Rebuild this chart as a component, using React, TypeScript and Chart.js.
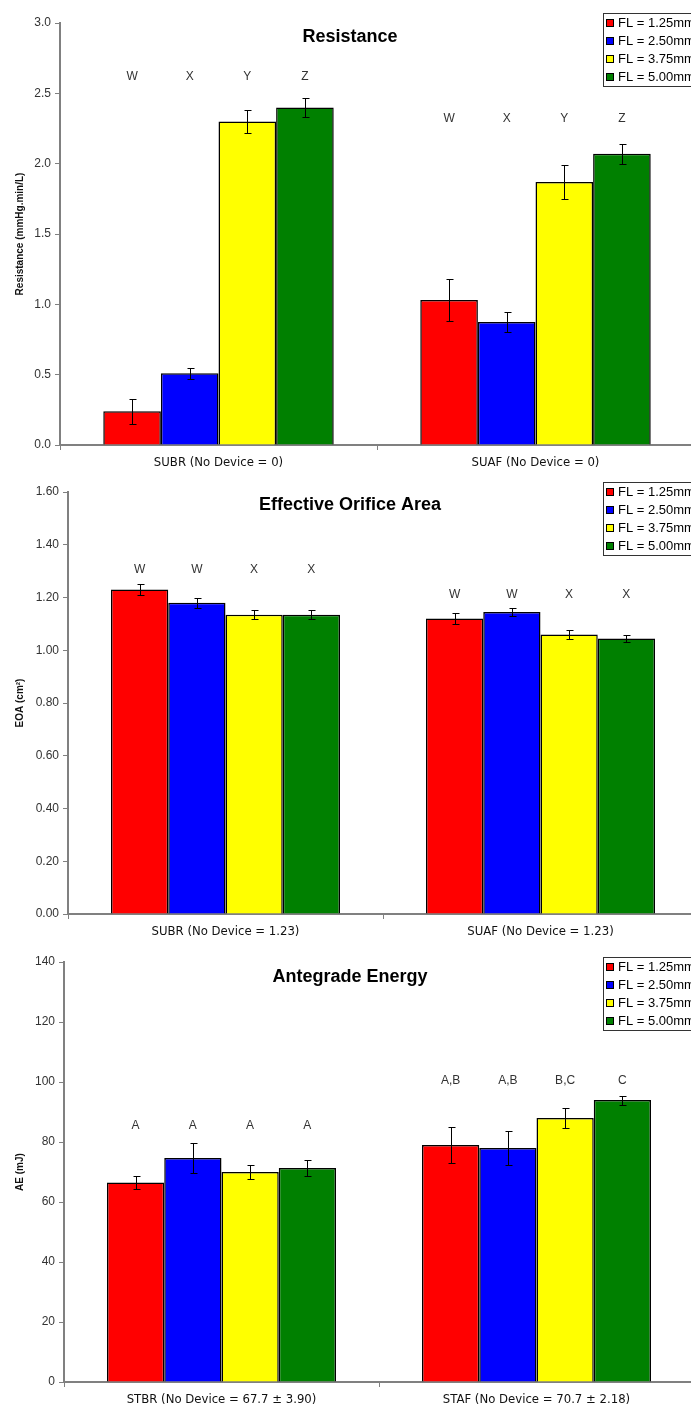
import React, { useEffect, useRef } from "react";
import { Chart, registerables } from "chart.js";

Chart.register(...registerables);

// ---------- DATA ----------
const seriesLabels = ["FL = 1.25mm", "FL = 2.50mm", "FL = 3.75mm", "FL = 5.00mm"];
const seriesColors = ["#FF0000", "#0000FF", "#FFFF00", "#008000"];

// Resistance
const resCategories = ["SUBR (No Device = 0)", "SUAF (No Device = 0)"];
const resFL125 = [0.24, 1.03];
const resFL250 = [0.51, 0.875];
const resFL375 = [2.3, 1.87];
const resFL500 = [2.4, 2.07];
const resErr125 = [0.09, 0.15];
const resErr250 = [0.04, 0.07];
const resErr375 = [0.085, 0.12];
const resErr500 = [0.07, 0.07];
const resLetters = [
  ["W", "X", "Y", "Z"],
  ["W", "X", "Y", "Z"],
];
const resLetterLevel = [2.615, 2.32];
const resTicks = { min: 0, max: 3, step: 0.5, decimals: 1 };

// Effective Orifice Area
const eoaCategories = ["SUBR (No Device = 1.23)", "SUAF (No Device = 1.23)"];
const eoaFL125 = [1.23, 1.12];
const eoaFL250 = [1.18, 1.145];
const eoaFL375 = [1.135, 1.06];
const eoaFL500 = [1.135, 1.045];
const eoaErr125 = [0.022, 0.022];
const eoaErr250 = [0.02, 0.015];
const eoaErr375 = [0.018, 0.018];
const eoaErr500 = [0.018, 0.012];
const eoaLetters = [
  ["W", "W", "X", "X"],
  ["W", "W", "X", "X"],
];
const eoaLetterLevel = [1.306, 1.211];
const eoaTicks = { min: 0, max: 1.6, step: 0.2, decimals: 2 };

// Antegrade Energy
const aeCategories = ["STBR (No Device = 67.7 \u00B1 3.90)", "STAF (No Device = 70.7 \u00B1 2.18)"];
const aeFL125 = [66.5, 79];
const aeFL250 = [74.7, 78];
const aeFL375 = [70, 88];
const aeFL500 = [71.3, 94];
const aeErr125 = [2, 6];
const aeErr250 = [5, 5.8];
const aeErr375 = [2.3, 3.4];
const aeErr500 = [2.7, 1.5];
const aeLetters = [
  ["A", "A", "A", "A"],
  ["A,B", "A,B", "B,C", "C"],
];
const aeLetterLevel = [85.3, 100.3];
const aeTicks = { min: 0, max: 140, step: 20, decimals: 0 };

// ---------- STYLE ----------
const FONT = "'Liberation Sans', Arial, sans-serif";
const NARROW = "'Liberation Sans Narrow', 'DejaVu Sans Condensed', 'Liberation Sans', Arial, sans-serif";

const annotPlugin = {
  id: "annot",
  afterDatasetsDraw(chart: any) {
    const o = chart.options.plugins.annot;
    if (!o) return;
    const ctx = chart.ctx;
    const y = chart.scales.y;
    const area = chart.chartArea;
    ctx.save();
    // error bars
    ctx.strokeStyle = "#000";
    ctx.lineWidth = 1;
    chart.data.datasets.forEach((ds: any, i: number) => {
      const meta = chart.getDatasetMeta(i);
      meta.data.forEach((bar: any, j: number) => {
        const v = ds.data[j];
        const e = o.errors[i][j];
        const x = Math.round(bar.x) + 0.5;
        const yt = Math.round(y.getPixelForValue(v + e)) + 0.5;
        const yb = Math.round(y.getPixelForValue(v - e)) + 0.5;
        ctx.beginPath();
        ctx.moveTo(x, yt);
        ctx.lineTo(x, yb);
        ctx.moveTo(x - 3, yt);
        ctx.lineTo(x + 4, yt);
        ctx.moveTo(x - 3, yb);
        ctx.lineTo(x + 4, yb);
        ctx.stroke();
      });
    });
    // letters
    ctx.fillStyle = "#333";
    ctx.font = `12px ${FONT}`;
    ctx.textAlign = "center";
    ctx.textBaseline = "middle";
    o.letters.forEach((grp: string[], g: number) => {
      grp.forEach((txt: string, s: number) => {
        const bar = chart.getDatasetMeta(s).data[g];
        ctx.fillText(txt, bar.x, y.getPixelForValue(o.letterLevel[g]));
      });
    });
    // title
    ctx.fillStyle = "#000";
    ctx.font = `bold 18px ${FONT}`;
    ctx.fillText(o.title, o.titleX, o.titleY);
    // y axis title
    ctx.save();
    ctx.translate(o.yTitleX, (area.top + area.bottom) / 2);
    ctx.rotate(-Math.PI / 2);
    ctx.font = `bold 10px ${FONT}`;
    ctx.fillStyle = "#111";
    ctx.fillText(o.yTitle, 0, 0);
    ctx.restore();
    // legend
    const lx = o.legendLeft;
    const ly = o.legendTop;
    ctx.fillStyle = "#fff";
    ctx.fillRect(lx, ly, 200, 73);
    ctx.strokeStyle = "#333";
    ctx.lineWidth = 1;
    ctx.strokeRect(lx + 0.5, ly + 0.5, 200, 73);
    ctx.font = `13px ${FONT}`;
    ctx.textAlign = "left";
    ctx.textBaseline = "middle";
    chart.data.datasets.forEach((ds: any, i: number) => {
      const ry = ly + 10 + i * 18;
      ctx.fillStyle = ds.backgroundColor;
      ctx.fillRect(lx + 3, ry - 4, 8, 8);
      ctx.strokeStyle = "#000";
      ctx.strokeRect(lx + 3.5, ry - 3.5, 7, 7);
      ctx.fillStyle = "#000";
      ctx.fillText(ds.label, lx + 15, ry + 0.5);
    });
    ctx.restore();
  },
};

type Cfg = {
  top: number;
  height: number;
  plotTop: number;
  xHeight: number;
  axisLeft: number;
  plotRight: number;
  categories: string[];
  series: number[][];
  errors: number[][];
  letters: string[][];
  letterLevel: number[];
  ticks: { min: number; max: number; step: number; decimals: number };
  title: string;
  titleY: number;
  yTitle: string;
  legendTop: number;
};

const W = 720;

function BarPanel({ cfg }: { cfg: Cfg }) {
  const ref = useRef<HTMLCanvasElement>(null);
  useEffect(() => {
    if (!ref.current) return;
    const chart = new Chart(ref.current, {
      type: "bar",
      data: {
        labels: cfg.categories,
        datasets: cfg.series.map((d, i) => ({
          label: seriesLabels[i],
          data: d,
          backgroundColor: seriesColors[i],
          borderColor: "#000",
          borderWidth: 1.5,
          barPercentage: 1,
          categoryPercentage: 0.727,
        })),
      },
      plugins: [annotPlugin],
      options: {
        animation: false,
        responsive: false,
        devicePixelRatio: 1,
        layout: { padding: { top: cfg.plotTop, right: W - cfg.plotRight, left: 0, bottom: 0 } },
        plugins: {
          legend: { display: false },
          tooltip: { enabled: false },
          title: { display: false },
          annot: {
            errors: cfg.errors,
            letters: cfg.letters,
            letterLevel: cfg.letterLevel,
            title: cfg.title,
            titleX: 350,
            titleY: cfg.titleY,
            yTitle: cfg.yTitle,
            yTitleX: 20,
            legendLeft: 603,
            legendTop: cfg.legendTop,
          },
        } as any,
        scales: {
          x: {
            afterFit: (s: any) => {
              s.height = cfg.xHeight;
            },
            grid: {
              display: true,
              drawOnChartArea: false,
              drawTicks: true,
              tickLength: 5,
              color: "#808080",
              offset: true,
            },
            border: { display: true, color: "#808080", width: 2 },
            ticks: {
              color: "#111",
              font: { family: NARROW, size: 13 },
              padding: 5,
              maxRotation: 0,
              autoSkip: false,
            },
          },
          y: {
            min: cfg.ticks.min,
            max: cfg.ticks.max,
            afterFit: (s: any) => {
              s.width = cfg.axisLeft;
            },
            afterBuildTicks: (s: any) => {
              const t = [];
              for (let v = cfg.ticks.min; v <= cfg.ticks.max + 1e-9; v += cfg.ticks.step) t.push({ value: +v.toFixed(4) });
              s.ticks = t;
            },
            grid: {
              display: true,
              drawOnChartArea: false,
              drawTicks: true,
              tickLength: 5,
              color: "#808080",
            },
            border: { display: true, color: "#808080", width: 2 },
            ticks: {
              color: "#333",
              font: { family: FONT, size: 12 },
              padding: 4,
              callback: (v: any) => Number(v).toFixed(cfg.ticks.decimals),
            },
          },
        },
      } as any,
    });
    return () => chart.destroy();
  }, [cfg]);
  return (
    <div style={{ position: "absolute", left: 0, top: cfg.top, width: W, height: cfg.height }}>
      <canvas ref={ref} width={W} height={cfg.height} style={{ width: W, height: cfg.height, display: "block" }} />
    </div>
  );
}

const panels: Cfg[] = [
  {
    top: 0,
    height: 475,
    plotTop: 23,
    xHeight: 30,
    axisLeft: 60,
    plotRight: 694,
    categories: resCategories,
    series: [resFL125, resFL250, resFL375, resFL500],
    errors: [resErr125, resErr250, resErr375, resErr500],
    letters: resLetters,
    letterLevel: resLetterLevel,
    ticks: resTicks,
    title: "Resistance",
    titleY: 37,
    yTitle: "Resistance (mmHg.min/L)",
    legendTop: 13,
  },
  {
    top: 475,
    height: 470,
    plotTop: 17,
    xHeight: 31,
    axisLeft: 68,
    plotRight: 698,
    categories: eoaCategories,
    series: [eoaFL125, eoaFL250, eoaFL375, eoaFL500],
    errors: [eoaErr125, eoaErr250, eoaErr375, eoaErr500],
    letters: eoaLetters,
    letterLevel: eoaLetterLevel,
    ticks: eoaTicks,
    title: "Effective Orifice Area",
    titleY: 30,
    yTitle: "EOA (cm\u00B2)",
    legendTop: 7,
  },
  {
    top: 945,
    height: 465,
    plotTop: 17,
    xHeight: 28,
    axisLeft: 64,
    plotRight: 694,
    categories: aeCategories,
    series: [aeFL125, aeFL250, aeFL375, aeFL500],
    errors: [aeErr125, aeErr250, aeErr375, aeErr500],
    letters: aeLetters,
    letterLevel: aeLetterLevel,
    ticks: aeTicks,
    title: "Antegrade Energy",
    titleY: 32,
    yTitle: "AE (mJ)",
    legendTop: 12,
  },
];

export default function App() {
  return (
    <div
      style={{
        position: "absolute",
        left: 0,
        top: 0,
        width: 691,
        height: 1410,
        overflow: "hidden",
        background: "#fff",
      }}
    >
      {panels.map((p, i) => (
        <BarPanel key={i} cfg={p} />
      ))}
    </div>
  );
}
